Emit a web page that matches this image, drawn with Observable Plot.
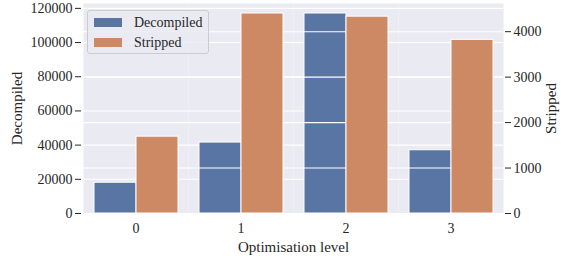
<!DOCTYPE html>
<html><head><meta charset="utf-8">
<script src="https://cdn.jsdelivr.net/npm/d3@7"></script>
<script src="https://cdn.jsdelivr.net/npm/@observablehq/plot@0.6"></script>
<style>
body{margin:0;background:#fff;}
#wrap{position:relative;width:561px;height:259px;font-family:"Liberation Serif",serif;color:#262626;}
#wrap svg{position:absolute;left:0;top:0;}
#wrap svg text{font-family:"Liberation Serif",serif;}
.legend{position:absolute;left:87px;top:10px;width:122px;height:44px;border:1px solid #cccccc;border-radius:3px;background:rgba(234,234,242,0.8);box-sizing:border-box;font-size:14px;}
.item{position:absolute;left:6px;height:20px;line-height:20px;}
.sw{position:absolute;left:0;top:5px;width:28px;height:9px;}
.lab{position:absolute;left:40px;top:0;white-space:nowrap;}
</style>
</head><body>
<div id="wrap"></div>
<script>
const levels = ["0", "1", "2", "3"];
const series = ["Decompiled", "Stripped"];
const decompiled = [18000, 41500, 117000, 37000];
const stripped = [1690, 4400, 4330, 3820];
const leftTicks = [0, 20000, 40000, 60000, 80000, 100000, 120000];
const rightTicks = [0, 1000, 2000, 3000, 4000];
const colors = {Decompiled: "#5975A4", Stripped: "#CC8963"};

const dRows = levels.map((l, i) => ({level: l, series: "Decompiled", value: decompiled[i]}));
const sRows = levels.map((l, i) => ({level: l, series: "Stripped", value: stripped[i]}));

const common = {
  width: 561, height: 259,
  marginLeft: 81, marginRight: 57, marginTop: 3, marginBottom: 46,
  style: {fontFamily: "Liberation Serif", fontSize: "14px", color: "#262626", background: "transparent", overflow: "visible"},
  fx: {domain: levels, padding: 0},
  x: {domain: series, paddingInner: 0, paddingOuter: 0.25, axis: null}
};

const p1 = Plot.plot({
  ...common,
  y: {domain: [0, d3.max(decompiled) * 1.05]},
  marks: [
    Plot.frame({fill: "#EAEAF2", stroke: "none"}),
    Plot.gridY(leftTicks, {stroke: "#ffffff", strokeOpacity: 1, strokeWidth: 1.1}),
    Plot.barY(dRows, {fx: "level", x: "series", y: "value", fill: colors.Decompiled, stroke: "#ffffff", strokeWidth: 1}),
    Plot.axisY(leftTicks, {anchor: "left", tickSize: 6, tickPadding: 3, dx: -2, tickFormat: "d", color: "#262626",
      label: "Decompiled", labelArrow: false, labelAnchor: "center", labelOffset: 72, fontSize: 14, fontFamily: "Liberation Serif"}),
    Plot.axisFx({anchor: "bottom", tickSize: 0, tickPadding: 10, label: "Optimisation level", labelArrow: false, labelAnchor: "center", labelOffset: 38, color: "#262626", fontSize: 14, fontFamily: "Liberation Serif"})
  ]
});
p1.querySelectorAll('[aria-label="y-axis label"] text, [aria-label="fx-axis label"] text').forEach(t => t.style.fontSize = "15px");

const p2 = Plot.plot({
  ...common,
  y: {domain: [0, d3.max(stripped) * 1.05]},
  marks: [
    Plot.gridY(rightTicks.filter(d => d > 0), {stroke: "#ffffff", strokeOpacity: 1, strokeWidth: 1.1}),
    Plot.barY(sRows, {fx: "level", x: "series", y: "value", fill: colors.Stripped, stroke: "#ffffff", strokeWidth: 1}),
    Plot.axisY(rightTicks, {anchor: "right", tickSize: 6, tickPadding: 3, dx: 1, tickFormat: "d", color: "#262626",
      label: "Stripped", labelArrow: false, labelAnchor: "center", labelOffset: 52, fontSize: 14, fontFamily: "Liberation Serif"}),
    Plot.axisFx({anchor: "bottom", ticks: [], label: null, tickSize: 0})
  ]
});
p2.querySelectorAll('[aria-label="y-axis label"] text').forEach(t => t.style.fontSize = "15px");

const wrap = document.getElementById("wrap");
wrap.appendChild(p1);
wrap.appendChild(p2);

const legend = document.createElement("div");
legend.className = "legend";
series.forEach((s, i) => {
  const it = document.createElement("div");
  it.className = "item";
  it.style.top = (2 + i * 20) + "px";
  const sw = document.createElement("div");
  sw.className = "sw";
  sw.style.background = colors[s];
  const lab = document.createElement("div");
  lab.className = "lab";
  lab.textContent = s;
  it.appendChild(sw); it.appendChild(lab);
  legend.appendChild(it);
});
wrap.appendChild(legend);
</script>
</body></html>
